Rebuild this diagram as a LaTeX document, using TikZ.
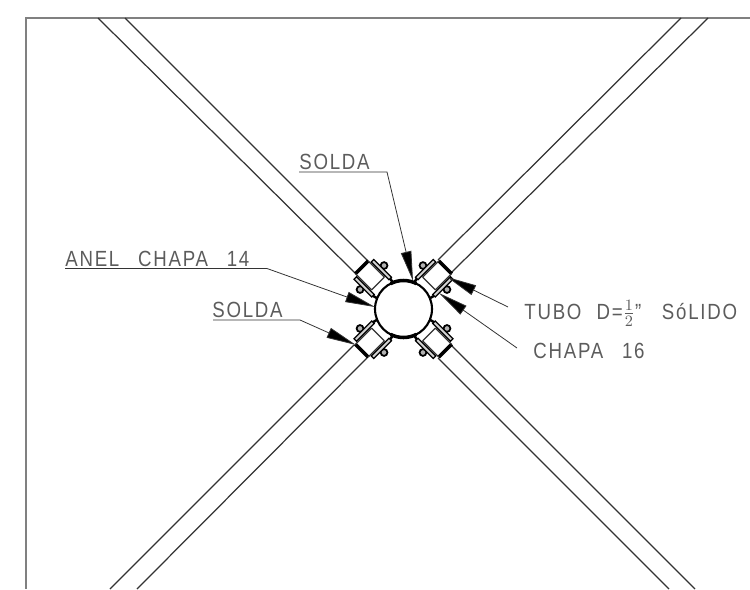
\documentclass[tikz,border=0pt]{standalone}
\usepackage{fontspec}
\usepackage{amsmath}
\usetikzlibrary{arrows.meta}
\usetikzlibrary{calc}
\setmainfont[FakeStretch=0.85,LetterSpace=8,WordSpace=2.7]{Liberation Sans}
\definecolor{framegray}{gray}{0.5}
\definecolor{inkgray}{gray}{0.2}
\tikzset{
  tube/.style={draw=inkgray,line width=0.7pt},
  frameline/.style={draw=framegray,line width=1.1pt},
  weld/.style={draw=black,line width=2pt},
  plate/.style={draw=black,fill=gray!35,line width=0.7pt},
  bolt/.style={draw=black,fill=gray!60,line width=1pt},
  leader/.style={draw=inkgray,line width=0.45pt,-{Triangle[length=17pt,width=6pt,fill=black]}},
  label/.style={text=inkgray!80,font=\fontsize{12.5}{13}\selectfont,inner sep=0pt,anchor=base west}
}
\begin{document}
\begin{tikzpicture}[x=0.02cm,y=-0.02cm]
  \useasboundingbox (0,0) rectangle (750,589);
  \coordinate (hub) at (403.5,309);

  % frame
  \draw[frameline] (750,18) -- (26,18) -- (26,589);

  % tubes
  \draw[tube] (98,18) -- (355,273);
  \draw[tube] (125,18) -- (368,261);
  \draw[tube] (681,18) -- (438,260);
  \draw[tube] (708,18) -- (451,273);
  \draw[tube] (110,589) -- (354,345);
  \draw[tube] (137,589) -- (367,358);
  \draw[tube] (669,589) -- (438,358);
  \draw[tube] (695,589) -- (451,345);

  % brackets
  \foreach \ang in {45,135,225,315}{
    \begin{scope}[shift={(hub)},rotate=\ang,y=0.02cm]
      \draw[weld] (59,-9.2) -- (59,9.2);
      \draw[tube] (36,-9) -- (36,9) (36,-9) -- (59,-9) (36,9) -- (59,9);
      \draw[weld,line width=1.4pt] (26,-11) -- (32,-12.5) (26,11) -- (32,12.5);
      \foreach \side in {-1,1}{
        \draw[plate] (43,\side*13) rectangle (47,\side*16);
        \draw[bolt] (44.5,\side*17) circle (3.4);
        \draw[plate] (31,\side*10.5) rectangle (56,\side*14);
      }
    \end{scope}
  }

  % ring
  \draw[draw=black,line width=1.2pt,fill=white] (hub) circle (28.5);
  \foreach \ang in {90,270}{
    \draw[draw=black,line width=2pt] ($(hub)+(\ang-27:28.5)$) arc[start angle=\ang-27,end angle=\ang+27,radius=28.5];
  }

  % labels
  \node[label] (soldaTop) at (299,169.5) {SOLDA};
  \node[label] (anel) at (65,266) {ANEL CHAPA 14};
  \node[label] (soldaLow) at (212,317.5) {SOLDA};
  \node[label] (tubo) at (524,319) {TUBO\hspace{-2pt} D=$\frac{1}{2}$''\hspace{1pt} Só\hspace{1pt}L\hspace{1pt}I\hspace{1pt}D\hspace{1pt}O};
  \node[label] (chapa) at (533,358) {CHAPA 16};

  % leaders
  \coordinate (soldaTopA) at (299,172);
  \coordinate (soldaTopB) at (387,172);
  \coordinate (soldaTopTip) at (413,281);
  \draw[leader] (soldaTopA) -- (soldaTopB) -- (soldaTopTip);
  \coordinate (anelA) at (65,268.5);
  \coordinate (anelB) at (267,268.5);
  \coordinate (anelTip) at (375,307);
  \draw[leader] (anelA) -- (anelB) -- (anelTip);
  \coordinate (soldaLowA) at (213,320);
  \coordinate (soldaLowB) at (300,320);
  \coordinate (soldaLowTip) at (356,345);
  \draw[leader] (soldaLowA) -- (soldaLowB) -- (soldaLowTip);
  \coordinate (tuboEnd) at (508,307);
  \coordinate (tuboTip) at (447,277);
  \draw[leader] (tuboEnd) -- (tuboTip);
  \coordinate (chapaEnd) at (517,348);
  \coordinate (chapaTip) at (439,293);
  \draw[leader] (chapaEnd) -- (chapaTip);
\end{tikzpicture}
\end{document}
